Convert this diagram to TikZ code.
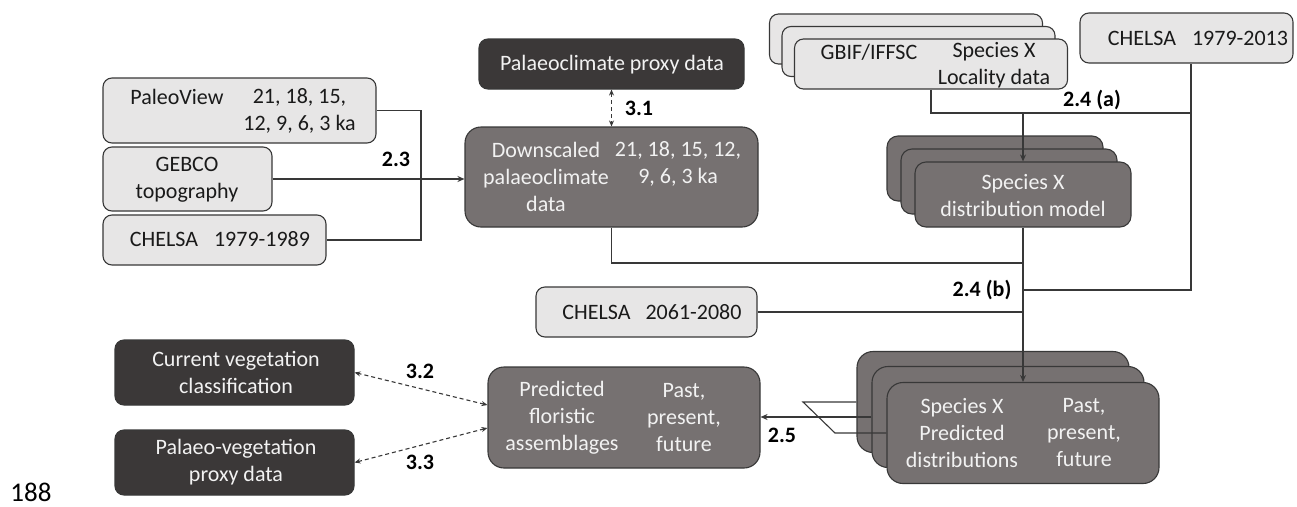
\documentclass[tikz,border=0pt]{standalone}
\usepackage{fontspec}
\setmainfont{Carlito}
\usetikzlibrary{arrows.meta,calc}
\definecolor{lightfill}{HTML}{E7E6E6}
\definecolor{midfill}{HTML}{767171}
\definecolor{darkfill}{HTML}{3B3838}
\definecolor{edge}{HTML}{383838}
\definecolor{txtlight}{HTML}{F2F2F2}
\definecolor{txtdark}{HTML}{1A1A1A}
\begin{document}
\begin{tikzpicture}[x=1pt,y=-1pt,
  lbox/.style={draw=edge,line width=1.1pt,fill=lightfill,inner sep=0pt,rounded corners=9pt},
  mbox/.style={draw=edge,line width=1.1pt,fill=midfill,inner sep=0pt,rounded corners=11pt},
  bigm/.style={mbox,rounded corners=16pt},
  dbox/.style={draw=edge,line width=1.1pt,fill=darkfill,inner sep=0pt,rounded corners=9pt},
  txt/.style={font=\fontsize{22}{27}\selectfont,align=center,inner sep=0pt,text=txtdark},
  wtxt/.style={txt,text=txtlight},
  lab/.style={font=\fontsize{22}{27}\selectfont\bfseries,inner sep=0pt,text=black},
  conn/.style={draw=edge,line width=1.1pt},
  arr/.style={conn,-{Stealth[length=7pt,width=6pt]}},
  dashedarrow/.style={conn,dash pattern=on 4pt off 3pt,{Stealth[length=6pt,width=5pt]}-{Stealth[length=6pt,width=5pt]}}
]
\fill[white] (0,0) rectangle (1297,506);
\useasboundingbox (0,0) rectangle (1297,506);

% left inputs
\node[lbox,minimum width=273pt,minimum height=65pt] (paleo) at (239.5,110.5) {};
\node[txt] (paleoA) at (177,97) {PaleoView};
\node[txt] (paleoB) at (299.5,111) {21, 18, 15,\\12, 9, 6, 3 ka};

\node[lbox,minimum width=169pt,minimum height=64pt] (gebco) at (187.5,179) {};
\node[txt] (gebcoT) at (187,179.5) {GEBCO\\topography};

\node[lbox,minimum width=223pt,minimum height=50pt] (chA) at (214.5,240) {};
\node[txt] (chAT) at (220,239.5) {CHELSA\hspace{16pt}1979-1989};

% palaeoclimate
\node[dbox,minimum width=265pt,minimum height=50pt] (proxy) at (611.5,64) {};
\node[wtxt] (proxyT) at (612,65) {Palaeoclimate proxy data};

\node[bigm,minimum width=293pt,minimum height=100pt] (down) at (611.5,177) {};
\node[wtxt] (downA) at (546,176.5) {Downscaled\\palaeoclimate\\data};
\node[wtxt] (downB) at (678,163.5) {21, 18, 15, 12,\\9, 6, 3 ka};

% GBIF stack
\node[lbox,minimum width=273pt,minimum height=50pt] (gbif3) at (906,39) {};
\node[lbox,minimum width=273pt,minimum height=50pt] (gbif2) at (918.5,51.5) {};
\node[lbox,minimum width=273pt,minimum height=50pt] (gbif1) at (931,64) {};
\node[txt] (gbifA) at (869,52) {GBIF/IFFSC};
\node[txt] (gbifB) at (994,65) {Species X\\Locality data};

\node[lbox,minimum width=213pt,minimum height=50pt] (chB) at (1186.5,38) {};
\node[txt] (chBT) at (1198,38) {CHELSA\hspace{16pt}1979-2013};

% SDM stack
\node[mbox,minimum width=216pt,minimum height=65pt] (sdm3) at (995,168.5) {};
\node[mbox,minimum width=216pt,minimum height=65pt] (sdm2) at (1009,181.5) {};
\node[mbox,minimum width=216pt,minimum height=65pt] (sdm1) at (1023,194.5) {};
\node[wtxt] (sdmT) at (1023,195.5) {Species X\\distribution model};

% future climate
\node[lbox,minimum width=221pt,minimum height=50pt] (chC) at (646.5,312) {};
\node[txt] (chCT) at (652,312) {CHELSA\hspace{15pt}2061-2080};

% floristic assemblages
\node[bigm,minimum width=272pt,minimum height=101pt] (flor) at (624,417.5) {};
\node[wtxt] (florA) at (562,417.5) {Predicted\\floristic\\assemblages};
\node[wtxt] (florB) at (684,417.5) {Past,\\present,\\future};

% predicted distributions stack
\node[bigm,minimum width=272pt,minimum height=101pt] (pd3) at (993,402) {};
\node[bigm,minimum width=272pt,minimum height=101pt] (pd2) at (1008,417) {};
\node[bigm,minimum width=272pt,minimum height=101pt] (pd1) at (1023,433) {};
\node[wtxt] (pdA) at (962,433) {Species X\\Predicted\\distributions};
\node[wtxt] (pdB) at (1084,433) {Past,\\present,\\future};

% vegetation
\node[dbox,minimum width=239pt,minimum height=65pt] (curveg) at (234.5,372.5) {};
\node[wtxt] (curvegT) at (236,372.5) {Current vegetation\\classification};
\node[dbox,minimum width=239pt,minimum height=65pt] (palveg) at (234.5,462.5) {};
\node[wtxt] (palvegT) at (236,462.5) {Palaeo-vegetation\\proxy data};

\node[font=\fontsize{27}{31}\selectfont,inner sep=0pt,text=black] (lineno) at (31,492) {188};

% junction coordinates
\coordinate (j23) at (421,179);
\coordinate (jd) at (1023,263);
\coordinate (ja) at (1023,113);
\coordinate (jchb) at (1191,113);
\coordinate (jb) at (1023,290);
\coordinate (s1) at (803,402);
\coordinate (s2) at (835,433);
\path (flor.west) ++(0,-12.5) coordinate (f1);
\path (flor.west) ++(0,10.5) coordinate (f2);

% connectors
\draw[conn] (paleo.east) -| (j23) |- (chA.east);
\draw[conn] (gebco.east) -- (j23);
\draw[arr,line width=1.8pt] (j23) -- (j23 -| down.west);
\draw[dashedarrow] (proxy.south) -- (down.north);
\draw[conn] (down.south) |- (jd);
\draw[conn] (gbif1.south) |- (jchb) -- (jchb |- chB.south);
\draw[arr] (ja) -- (sdm1.north);
\draw[conn] (jchb) |- (jb);
\draw[arr] (sdm1.south) -- (pd1.north);
\draw[conn] (chC.east) -- (chC.east -| pd1.north);
\draw[conn] (pd3.west) -- (s1) -- (s2) -- (pd1.west);
\draw[arr] (pd2.west) -- (pd2.west -| flor.east);
\draw[dashedarrow] (f1) -- (curveg.east);
\draw[dashedarrow] (f2) -- (palveg.east);

% labels
\node[lab] (l23) at (396,159) {2.3};
\node[lab] (l31) at (639,108) {3.1};
\node[lab] (l24a) at (1092,100) {2.4 (a)};
\node[lab] (l24b) at (982,290) {2.4 (b)};
\node[lab] (l25) at (782,435) {2.5};
\node[lab] (l32) at (420,371) {3.2};
\node[lab] (l33) at (420,462) {3.3};
\end{tikzpicture}
\end{document}
